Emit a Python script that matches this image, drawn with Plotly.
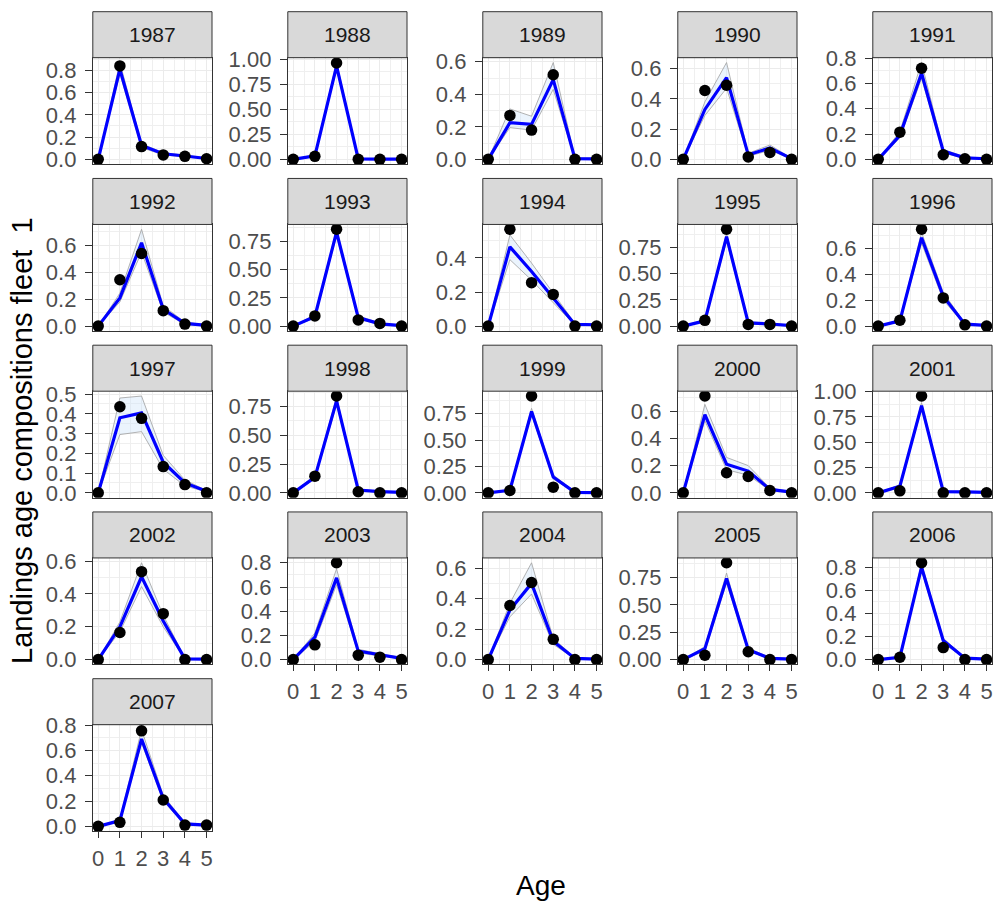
import plotly.graph_objects as go

years = list(range(1987, 2008))
ages = [0, 1, 2, 3, 4, 5]

observed = [
    [0.0, 0.84, 0.115, 0.04, 0.027, 0.005],   # 1987
    [0.0, 0.03, 0.96, 0.0, 0.0, 0.0],         # 1988
    [0.0, 0.27, 0.18, 0.52, 0.0, 0.0],        # 1989
    [0.0, 0.455, 0.49, 0.016, 0.046, 0.0],    # 1990
    [0.0, 0.215, 0.72, 0.036, 0.004, 0.0],    # 1991
    [0.0, 0.345, 0.54, 0.115, 0.015, 0.0],    # 1992
    [0.0, 0.09, 0.855, 0.055, 0.024, 0.0],    # 1993
    [0.0, 0.568, 0.255, 0.186, 0.0, 0.0],     # 1994
    [0.0, 0.055, 0.92, 0.016, 0.016, 0.0],    # 1995
    [0.0, 0.045, 0.745, 0.217, 0.01, 0.0],    # 1996
    [0.0, 0.436, 0.377, 0.133, 0.042, 0.0],   # 1997
    [0.0, 0.145, 0.842, 0.01, 0.0, 0.0],      # 1998
    [0.0, 0.022, 0.916, 0.054, 0.0, 0.0],     # 1999
    [0.0, 0.711, 0.148, 0.121, 0.017, 0.0],   # 2000
    [0.0, 0.02, 0.955, 0.0, 0.0, 0.0],        # 2001
    [0.0, 0.165, 0.536, 0.28, 0.0, 0.0],      # 2002
    [0.0, 0.122, 0.80, 0.037, 0.02, 0.0],     # 2003
    [0.0, 0.355, 0.506, 0.133, 0.0, 0.0],     # 2004
    [0.0, 0.04, 0.884, 0.072, 0.0, 0.0],      # 2005
    [0.0, 0.02, 0.838, 0.104, 0.0, 0.0],      # 2006
    [0.0, 0.032, 0.755, 0.208, 0.01, 0.01],   # 2007
]

expected = [
    [0.0, 0.81, 0.125, 0.05, 0.03, 0.008],
    [0.0, 0.035, 0.93, 0.005, 0.003, 0.002],
    [0.0, 0.225, 0.215, 0.49, 0.005, 0.003],
    [0.0, 0.33, 0.54, 0.03, 0.075, 0.005],
    [0.0, 0.19, 0.68, 0.065, 0.012, 0.005],
    [0.0, 0.21, 0.62, 0.125, 0.02, 0.005],
    [0.0, 0.085, 0.83, 0.075, 0.02, 0.005],
    [0.0, 0.465, 0.32, 0.165, 0.01, 0.008],
    [0.0, 0.05, 0.85, 0.03, 0.02, 0.005],
    [0.0, 0.04, 0.68, 0.23, 0.015, 0.005],
    [0.0, 0.38, 0.405, 0.155, 0.05, 0.008],
    [0.0, 0.135, 0.80, 0.025, 0.01, 0.005],
    [0.0, 0.025, 0.77, 0.15, 0.005, 0.003],
    [0.0, 0.575, 0.21, 0.16, 0.025, 0.005],
    [0.0, 0.065, 0.86, 0.012, 0.01, 0.005],
    [0.0, 0.2, 0.505, 0.235, 0.005, 0.003],
    [0.0, 0.185, 0.675, 0.07, 0.04, 0.01],
    [0.0, 0.325, 0.5, 0.12, 0.008, 0.003],
    [0.0, 0.10, 0.74, 0.09, 0.012, 0.005],
    [0.0, 0.02, 0.80, 0.165, 0.012, 0.005],
    [0.0, 0.045, 0.69, 0.22, 0.02, 0.01],
]

lower = [
    [0.0, 0.77, 0.105, 0.04, 0.022, 0.004],
    [0.0, 0.025, 0.9, 0.002, 0.001, 0.0],
    [0.0, 0.195, 0.18, 0.43, 0.002, 0.001],
    [0.0, 0.29, 0.47, 0.02, 0.06, 0.003],
    [0.0, 0.17, 0.64, 0.05, 0.008, 0.003],
    [0.0, 0.18, 0.55, 0.105, 0.012, 0.003],
    [0.0, 0.07, 0.8, 0.06, 0.015, 0.003],
    [0.0, 0.39, 0.27, 0.14, 0.005, 0.004],
    [0.0, 0.04, 0.81, 0.02, 0.014, 0.003],
    [0.0, 0.03, 0.64, 0.2, 0.01, 0.003],
    [0.0, 0.295, 0.31, 0.12, 0.035, 0.005],
    [0.0, 0.12, 0.77, 0.018, 0.006, 0.003],
    [0.0, 0.018, 0.74, 0.13, 0.003, 0.002],
    [0.0, 0.53, 0.17, 0.13, 0.018, 0.003],
    [0.0, 0.05, 0.83, 0.008, 0.006, 0.003],
    [0.0, 0.17, 0.445, 0.2, 0.003, 0.001],
    [0.0, 0.15, 0.62, 0.055, 0.03, 0.006],
    [0.0, 0.28, 0.43, 0.1, 0.005, 0.002],
    [0.0, 0.08, 0.7, 0.075, 0.008, 0.003],
    [0.0, 0.015, 0.77, 0.145, 0.008, 0.003],
    [0.0, 0.035, 0.66, 0.2, 0.015, 0.006],
]

upper = [
    [0.0, 0.87, 0.14, 0.06, 0.038, 0.012],
    [0.0, 0.045, 0.965, 0.01, 0.006, 0.004],
    [0.0, 0.31, 0.265, 0.595, 0.01, 0.006],
    [0.0, 0.38, 0.64, 0.04, 0.095, 0.008],
    [0.0, 0.22, 0.765, 0.08, 0.018, 0.008],
    [0.0, 0.245, 0.72, 0.15, 0.03, 0.008],
    [0.0, 0.1, 0.855, 0.09, 0.028, 0.008],
    [0.0, 0.535, 0.37, 0.19, 0.016, 0.012],
    [0.0, 0.065, 0.88, 0.04, 0.028, 0.008],
    [0.0, 0.05, 0.72, 0.26, 0.02, 0.008],
    [0.0, 0.48, 0.49, 0.19, 0.065, 0.012],
    [0.0, 0.155, 0.83, 0.032, 0.015, 0.008],
    [0.0, 0.032, 0.8, 0.17, 0.008, 0.005],
    [0.0, 0.65, 0.26, 0.2, 0.035, 0.008],
    [0.0, 0.08, 0.89, 0.018, 0.015, 0.008],
    [0.0, 0.23, 0.59, 0.27, 0.008, 0.005],
    [0.0, 0.22, 0.75, 0.085, 0.05, 0.015],
    [0.0, 0.37, 0.635, 0.14, 0.012, 0.005],
    [0.0, 0.12, 0.79, 0.105, 0.018, 0.008],
    [0.0, 0.028, 0.83, 0.185, 0.018, 0.008],
    [0.0, 0.055, 0.765, 0.245, 0.028, 0.014],
]

# y tick step per panel
y_steps = [0.2, 0.25, 0.2, 0.2, 0.2,
           0.2, 0.25, 0.2, 0.25, 0.2,
           0.1, 0.25, 0.25, 0.2, 0.25,
           0.2, 0.2, 0.2, 0.25, 0.2,
           0.2]

W, H = 993, 907
FONT = "Liberation Sans, Arial, sans-serif"


def px(x):
    return x / W


def py(y):
    return 1 - y / H


col_left = [92.8 + 195 * c for c in range(5)]
pw = 119.2
row_top = [11.7 + 166.75 * r for r in range(5)]
sh = 46
ph = 106.5

fig = go.Figure()
layout = dict(
    width=W, height=H, autosize=False,
    margin=dict(l=0, r=0, t=0, b=0, pad=0, autoexpand=False),
    paper_bgcolor="white", plot_bgcolor="white",
    showlegend=False,
    font=dict(family=FONT),
)
shapes = []
annotations = []

n = len(years)
for i, yr in enumerate(years):
    r, c = divmod(i, 5)
    k = i + 1
    xa = "x" if k == 1 else f"x{k}"
    ya = "y" if k == 1 else f"y{k}"
    x0 = col_left[c]
    x1 = x0 + pw
    st = row_top[r]
    pt = st + sh
    pb = pt + ph

    fig.add_trace(go.Scatter(x=ages, y=lower[i], mode="lines",
                             line=dict(color="#A0A0A0", width=0.8),
                             xaxis=xa, yaxis=ya, hoverinfo="skip"))
    fig.add_trace(go.Scatter(x=ages, y=upper[i], mode="lines",
                             line=dict(color="#A0A0A0", width=0.8),
                             fill="tonexty", fillcolor="rgba(205,228,250,0.4)",
                             xaxis=xa, yaxis=ya, hoverinfo="skip"))
    fig.add_trace(go.Scatter(x=ages, y=expected[i], mode="lines",
                             line=dict(color="#0000FF", width=3.2),
                             xaxis=xa, yaxis=ya))
    fig.add_trace(go.Scatter(x=ages, y=observed[i], mode="markers",
                             marker=dict(color="black", size=11.5),
                             xaxis=xa, yaxis=ya))

    vals = observed[i] + expected[i] + lower[i] + upper[i]
    vmin, vmax = min(vals), max(vals)
    d = vmax - vmin
    yr_range = [vmin - 0.05 * d, vmax + 0.05 * d]
    step = y_steps[i]
    ticks = []
    t = 0.0
    while t <= yr_range[1] + 1e-9:
        ticks.append(round(t, 4))
        t += step
    fmt = "{:.2f}" if step == 0.25 else "{:.1f}"
    ticktext = [fmt.format(v) for v in ticks]

    below_empty = (i + 5) >= n
    layout["xaxis" if k == 1 else f"xaxis{k}"] = dict(
        domain=[px(x0), px(x1)], anchor=ya, automargin=False,
        range=[-0.25, 5.25],
        tickmode="linear", tick0=0, dtick=1,
        showticklabels=below_empty,
        ticks="outside" if below_empty else "",
        ticklen=6, tickwidth=1, tickcolor="#333333",
        ticklabelstandoff=1, ticklabeloverflow="allow",
        tickfont=dict(size=22, color="#4D4D4D", family=FONT),
        showline=True, mirror=True, linecolor="#333333", linewidth=1,
        showgrid=True, gridcolor="#EBEBEB", gridwidth=1.4,
        minor=dict(tickmode="linear", tick0=0, dtick=0.5, showgrid=True,
                   gridcolor="#EFEFEF", gridwidth=0.8, ticks=""),
        zeroline=False, fixedrange=True,
    )
    layout["yaxis" if k == 1 else f"yaxis{k}"] = dict(
        domain=[py(pb), py(pt)], anchor=xa, automargin=False,
        range=yr_range,
        tickmode="array", tickvals=ticks, ticktext=ticktext,
        ticks="outside", ticklen=7, tickwidth=1, tickcolor="#333333",
        ticklabelstandoff=4, ticklabeloverflow="allow",
        tickfont=dict(size=22, color="#4D4D4D", family=FONT),
        showline=True, mirror=True, linecolor="#333333", linewidth=1,
        showgrid=True, gridcolor="#EBEBEB", gridwidth=1.4,
        minor=dict(tickmode="linear", tick0=0, dtick=step / 2, showgrid=True,
                   gridcolor="#EFEFEF", gridwidth=0.8, ticks=""),
        zeroline=False, fixedrange=True,
    )

    shapes.append(dict(type="rect", xref="paper", yref="paper",
                       x0=px(x0), x1=px(x1), y0=py(pt), y1=py(st),
                       fillcolor="#D9D9D9", line=dict(color="#333333", width=1),
                       layer="above"))
    annotations.append(dict(text=str(yr), xref="paper", yref="paper",
                            x=px((x0 + x1) / 2), y=py(st + sh / 2),
                            showarrow=False, xanchor="center", yanchor="middle",
                            font=dict(size=21, color="#1A1A1A", family=FONT)))

annotations.append(dict(text="Age", xref="paper", yref="paper",
                        x=px(541), y=py(885), showarrow=False,
                        xanchor="center", yanchor="middle",
                        font=dict(size=28, color="black", family=FONT)))
annotations.append(dict(text="Landings age compositions fleet&nbsp;&nbsp;1", xref="paper", yref="paper",
                        x=px(22), y=py(441), showarrow=False, textangle=-90,
                        xanchor="center", yanchor="middle",
                        font=dict(size=29, color="black", family=FONT)))

layout["shapes"] = shapes
layout["annotations"] = annotations
fig.update_layout(**layout)
fig.write_html(
    "out.html",
    config={"displayModeBar": False, "responsive": False},
    post_script="document.body.style.margin='0px';document.body.style.overflow='hidden';",
)
